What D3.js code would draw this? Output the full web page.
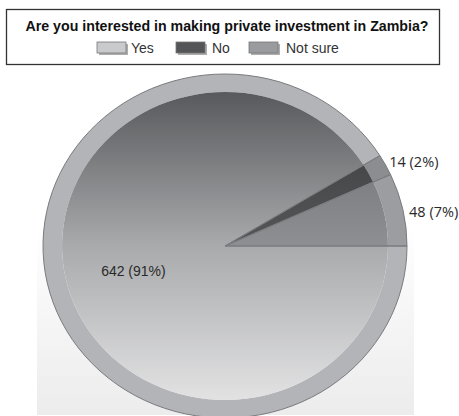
<!DOCTYPE html>
<html><head><meta charset="utf-8">
<script src="https://cdn.jsdelivr.net/npm/d3@7"></script>
<style>html,body{margin:0;padding:0;background:#fff;}svg{display:block;}</style>
</head><body>
<svg id="chart" width="459" height="416"></svg>
<script>
const title = "Are you interested in making private investment in Zambia?";
const categories = ["Yes", "No", "Not sure"];
const values = [642, 14, 48];
const labels = ["642 (91%)", "14 (2%)", "48 (7%)"];

const svg = d3.select("#chart");
const defs = svg.append("defs");

// background panel gradient
const bg = defs.append("linearGradient").attr("id","bgGrad").attr("x1",0).attr("y1",0).attr("x2",0).attr("y2",1);
bg.append("stop").attr("offset","0%").attr("stop-color","#ffffff");
bg.append("stop").attr("offset","45%").attr("stop-color","#ffffff");
bg.append("stop").attr("offset","100%").attr("stop-color","#ececec");
svg.append("rect").attr("x",37).attr("y",70).attr("width",377).attr("height",345).attr("fill","url(#bgGrad)");

// legend box
svg.append("rect").attr("x",6.5).attr("y",9.5).attr("width",433).attr("height",55)
  .attr("fill","#fff").attr("stroke","#333").attr("stroke-width",1.3);
svg.append("text").attr("x",227).attr("y",31).attr("text-anchor","middle")
  .attr("font-family","Liberation Sans, Arial, sans-serif").attr("font-weight","bold")
  .attr("font-size",15).attr("fill","#111").attr("textLength",403).attr("lengthAdjust","spacingAndGlyphs")
  .text(title);

const swatchFill = ["#c9cacc","#545557","#9a9b9e"];
const legendX = [97, 176, 249];
const legendTextX = [131, 212, 286];
const lg = svg.append("g");
categories.forEach((c,i)=>{
  lg.append("rect").attr("x",legendX[i]+2).attr("y",44).attr("width",29).attr("height",11).attr("fill","#777").attr("opacity",0.6);
  lg.append("rect").attr("x",legendX[i]).attr("y",42).attr("width",29).attr("height",11)
    .attr("fill",swatchFill[i]).attr("stroke","#777").attr("stroke-width",0.8);
  lg.append("text").attr("x",legendTextX[i]).attr("y",53).attr("font-family","Liberation Sans, Arial, sans-serif")
    .attr("font-size",14).attr("fill","#333").text(c);
});

// pie
const cx = 225, cy = 246, R = 172, Rin = 154, sx = 182/172;
const g = svg.append("g").attr("transform",`translate(${cx},${cy}) scale(${sx},1)`);

function grad(id, top, mid, bot){
  const gr = defs.append("linearGradient").attr("id",id).attr("gradientUnits","userSpaceOnUse")
    .attr("x1",0).attr("y1",-Rin).attr("x2",0).attr("y2",Rin);
  gr.append("stop").attr("offset","0%").attr("stop-color",top);
  gr.append("stop").attr("offset","50%").attr("stop-color",mid);
  gr.append("stop").attr("offset","100%").attr("stop-color",bot);
}
grad("gYes","#58595c","#a9aaac","#e2e2e3");
grad("gNo","#3a3b3d","#555658","#6a6b6d");
grad("gNs","#6a6b6e","#8e8f92","#b5b6b8");
const innerFill = ["url(#gYes)","url(#gNo)","url(#gNs)"];
const ringFill = ["#b3b4b7","#8c8d90","#9c9da0"];

const pie = d3.pie().sort(null).value(d=>d).startAngle(Math.PI/2).endAngle(Math.PI/2 + 2*Math.PI);
const arcs = pie(values);
const ringArc = d3.arc().innerRadius(Rin).outerRadius(R);
const innerArc = d3.arc().innerRadius(0).outerRadius(Rin);
const fullArc = d3.arc().innerRadius(0).outerRadius(R);

g.selectAll("path.ring").data(arcs).join("path").attr("class","ring")
  .attr("d",ringArc).attr("fill",(d,i)=>ringFill[i]);
g.selectAll("path.inner").data(arcs).join("path").attr("class","inner")
  .attr("d",innerArc).attr("fill",(d,i)=>innerFill[i]);
g.selectAll("path.edge").data(arcs).join("path").attr("class","edge")
  .attr("d",fullArc).attr("fill","none").attr("stroke","#7a7b7e").attr("stroke-width",1)
  .attr("vector-effect","non-scaling-stroke");

// labels
const pos = (d,r)=>{ const a = (d.startAngle+d.endAngle)/2; return [cx + sx*r*Math.sin(a), cy - r*Math.cos(a)]; };
const labelR = [88, 176, 178];
const labelDy = [2, 0, 5];
arcs.forEach((d,i)=>{
  const p = pos(d,labelR[i]);
  const inside = i===0;
  svg.append("text").attr("x",p[0] - (inside?2:0)).attr("y",p[1] + labelDy[i]).attr("text-anchor",inside?"middle":"start")
    .attr("dominant-baseline","middle")
    .attr("font-family",inside?"Liberation Sans, Arial, sans-serif":"Open Sans, sans-serif")
    .attr("font-size",inside?14:14.5)
    .attr("fill","#2a2a2a").text(labels[i]);
});
</script>
</body></html>
